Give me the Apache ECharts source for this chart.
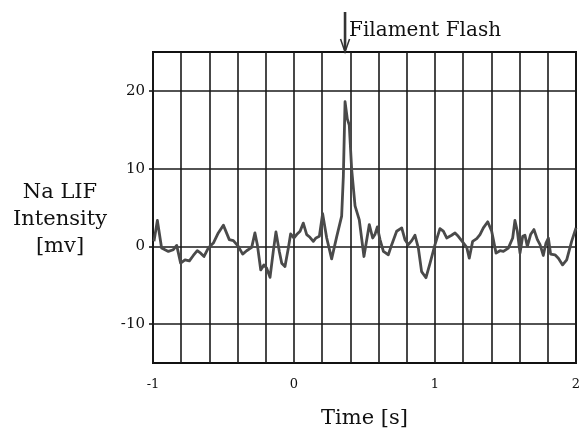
<!DOCTYPE html>
<html>
<head>
<meta charset="utf-8">
<script src="https://cdn.jsdelivr.net/npm/echarts@6/dist/echarts.min.js"></script>
<style>
  html, body { margin: 0; padding: 0; background: #fff; }
  #main { width: 583px; height: 430px; }
</style>
</head>
<body>
<div id="main"></div>
<script>
// time [s] and Na LIF intensity [mv]
var times = [
  -0.993, -0.969, -0.939, -0.891, -0.856, -0.832, -0.804, -0.773, -0.742, -0.714,
  -0.686, -0.662, -0.638, -0.608, -0.572, -0.537, -0.501, -0.459, -0.430, -0.395,
  -0.364, -0.336, -0.300, -0.277, -0.260, -0.236, -0.213, -0.194, -0.170, -0.147,
  -0.128, -0.104, -0.087, -0.064, -0.040, -0.024, 0.000, 0.019, 0.043, 0.066,
  0.090, 0.113, 0.137, 0.156, 0.180, 0.203, 0.232, 0.267, 0.303, 0.338,
  0.350, 0.362, 0.378, 0.392, 0.409, 0.433, 0.463, 0.496, 0.534, 0.558,
  0.574, 0.591, 0.610, 0.634, 0.669, 0.693, 0.728, 0.764, 0.787, 0.811,
  0.835, 0.858, 0.882, 0.905, 0.936, 0.965, 1.000, 1.035, 1.059, 1.083,
  1.118, 1.142, 1.165, 1.189, 1.225, 1.243, 1.267, 1.296, 1.319, 1.343,
  1.374, 1.402, 1.433, 1.461, 1.485, 1.520, 1.551, 1.567, 1.584, 1.603,
  1.622, 1.638, 1.655, 1.678, 1.702, 1.726, 1.745, 1.768, 1.787, 1.804,
  1.820, 1.851, 1.875, 1.905, 1.934, 1.969, 2.000
];
var intensity = [
  0.65, 3.33, -0.22, -0.65, -0.43, 0.13, -2.16, -1.73, -1.86, -1.17,
  -0.56, -0.87, -1.30, -0.22, 0.43, 1.73, 2.73, 0.87, 0.74, 0.00,
  -1.00, -0.56, -0.13, 1.73, 0.22, -3.03, -2.38, -2.81, -3.98, -0.65,
  1.86, -0.65, -2.16, -2.60, -0.22, 1.60, 1.08, 1.52, 1.95, 2.99,
  1.52, 1.17, 0.65, 1.08, 1.30, 4.20, 1.08, -1.60, 1.26, 3.90,
  9.00, 18.6, 16.4, 15.6, 9.90, 5.20, 3.40, -1.30, 2.80, 1.08,
  1.52, 2.50, 0.87, -0.65, -1.08, 0.22, 1.95, 2.38, 0.87, 0.22,
  0.74, 1.43, -0.22, -3.25, -4.03, -2.16, 0.22, 2.29, 1.95, 1.08,
  1.43, 1.73, 1.30, 0.74, -0.13, -1.52, 0.65, 1.00, 1.52, 2.38,
  3.16, 1.95, -0.87, -0.56, -0.65, -0.22, 1.08, 3.33, 1.95, -0.87,
  1.30, 1.43, 0.00, 1.52, 2.16, 0.87, 0.22, -1.17, 0.43, 1.08,
  -1.00, -1.08, -1.52, -2.38, -1.73, 0.65, 2.38
];
var xTicks = [-1, 0, 1, 2];
var yTicks = [-10, 0, 10, 20];
var flashTime = 0.362;
var flashLabel = 'Filament Flash';
var yTitle = 'Na LIF\nIntensity\n[mv]';

var serif = '"DejaVu Serif", "Liberation Serif", serif';

var trace = times.map(function (t, i) { return [t, intensity[i]]; });

var chart = echarts.init(document.getElementById('main'));

chart.setOption({
  backgroundColor: '#ffffff',
  animation: false,
  grid: {
    left: 153, right: 7, top: 52, bottom: 67,
    outerBoundsMode: 'none',
    containLabel: false,
    show: true, borderColor: '#111', borderWidth: 2
  },
  xAxis: {
    type: 'value',
    min: -1, max: 2, interval: 0.2,
    name: 'Time [s]',
    nameLocation: 'middle',
    nameGap: 45,
    nameTextStyle: { fontFamily: serif, fontSize: 21, color: '#111' },
    axisLine: { show: false, onZero: false },
    axisTick: { show: false },
    axisLabel: {
      customValues: xTicks,
      margin: 15,
      fontFamily: serif, fontSize: 13, color: '#111',
      formatter: function (v) { return String(Math.round(v)); }
    },
    splitLine: { show: true, lineStyle: { color: '#1a1a1a', width: 1.6 } }
  },
  yAxis: {
    type: 'value',
    min: -15, max: 25, interval: 5,
    axisLine: { show: false, onZero: false },
    axisTick: {
      show: true, customValues: yTicks, length: 4,
      lineStyle: { color: '#1a1a1a', width: 1.6 }
    },
    axisLabel: {
      customValues: yTicks,
      margin: 8,
      fontFamily: serif, fontSize: 15, color: '#111'
    },
    splitLine: { show: true, lineStyle: { color: '#1a1a1a', width: 1.6 } }
  },
  series: [{
    type: 'line',
    data: trace,
    showSymbol: false,
    lineStyle: { color: '#4a4a4a', width: 2.8, join: 'round' },
    itemStyle: { color: '#4a4a4a' },
    z: 3
  }]
});

// flash marker above the plot, placed at the flash time
var fx = chart.convertToPixel({ xAxisIndex: 0 }, flashTime);
chart.setOption({
  graphic: [
    {
      type: 'text',
      x: 60, y: 220,
      style: {
        text: yTitle,
        fontFamily: serif, fontSize: 21, fill: '#111', lineHeight: 27,
        align: 'center', verticalAlign: 'middle'
      }
    },
    {
      type: 'line',
      shape: { x1: fx, y1: 12, x2: fx, y2: 50 },
      style: { stroke: '#333', lineWidth: 2.6 }
    },
    {
      type: 'polyline',
      shape: { points: [[fx - 4.5, 39], [fx, 52], [fx + 4.5, 39]] },
      style: { stroke: '#333', lineWidth: 1.5, fill: null }
    },
    {
      type: 'text',
      x: fx + 4, y: 31,
      style: {
        text: flashLabel,
        fontFamily: serif, fontSize: 20, fill: '#111',
        verticalAlign: 'middle', align: 'left'
      }
    }
  ]
});
</script>
</body>
</html>
